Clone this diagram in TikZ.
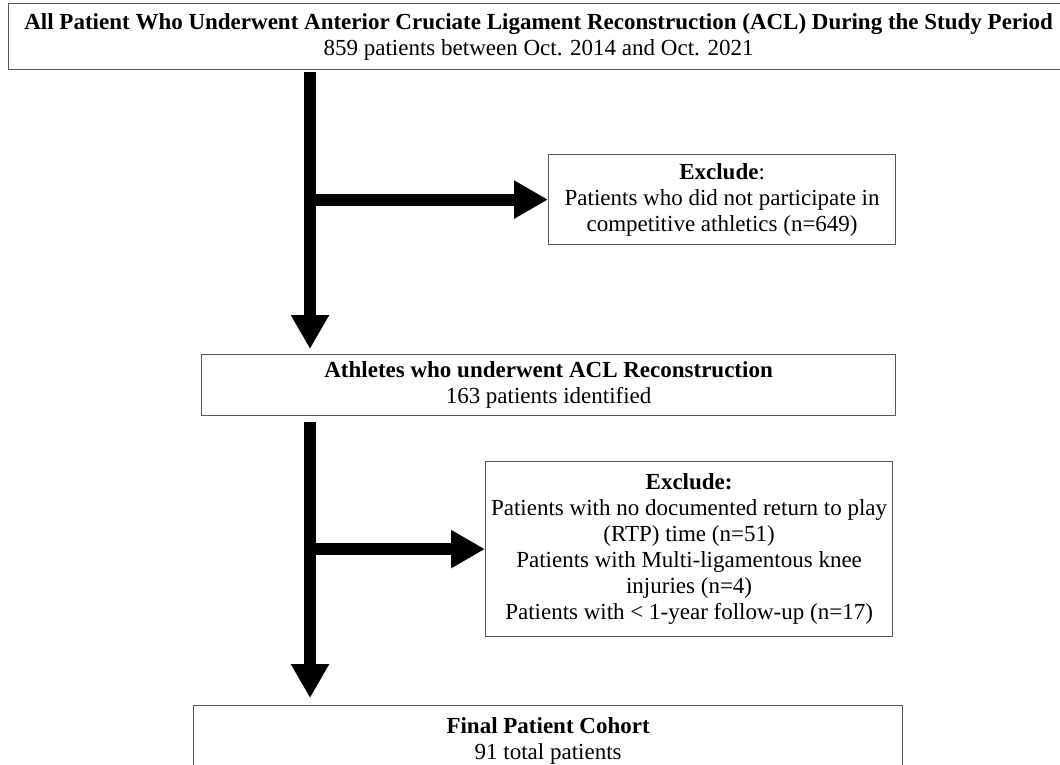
\documentclass[tikz,border=0pt]{standalone}
\usepackage{fontspec}
\setmainfont{Liberation Serif}
\usetikzlibrary{arrows.meta}
\tikzset{
     box/.style={draw=black!65, line width=1.2pt, rectangle, align=center,
          inner sep=0pt, anchor=north west},
     flow/.style={line width=12pt, -{Triangle[width=36pt,length=34pt]}},
}
\def\trunk{310}

\begin{document}
\begin{tikzpicture}[x=1pt, y=-1pt, font=\fontsize{23}{26}\selectfont]
     \useasboundingbox (0,0) rectangle (1060,764);
     \coordinate (axis) at (\trunk,0);

     \node[box, minimum width=1060pt, minimum height=66pt] (top) at (8,3)
          {\textbf{All Patient Who Underwent Anterior Cruciate Ligament Reconstruction (ACL) During the Study Period}\\
          859 patients between Oct. 2014 and Oct. 2021};

     \node[box, minimum width=347pt, minimum height=90pt] (excl1) at (548,154)
          {\textbf{Exclude}:\\Patients who did not participate in\\competitive athletics (n=649)};

     \node[box, minimum width=694pt, minimum height=61pt] (athl) at (201,354)
          {\textbf{Athletes who underwent ACL Reconstruction}\\163 patients identified};

     \node[box, minimum width=407pt, minimum height=175pt] (excl2) at (485,461)
          {\textbf{Exclude:}\\Patients with no documented return to play\\(RTP) time (n=51)\\
          Patients with Multi-ligamentous knee\\injuries (n=4)\\Patients with < 1-year follow-up (n=17)};

     \node[box, minimum width=709pt, minimum height=70pt] (cohort) at (193,705)
          {\textbf{Final Patient Cohort}\\91 total patients};

     % trunk and exclusions
     \draw[flow, shorten >=5pt, shorten <=2pt] (top.south -| axis) -- (athl.north -| axis);
     \draw[flow] (axis |- excl1.west) -- (excl1.west);
     \draw[flow, shorten >=7pt, shorten <=6pt] (athl.south -| axis) -- (cohort.north -| axis);
     \draw[flow] (axis |- excl2.west) -- (excl2.west);

\end{tikzpicture}
\end{document}
